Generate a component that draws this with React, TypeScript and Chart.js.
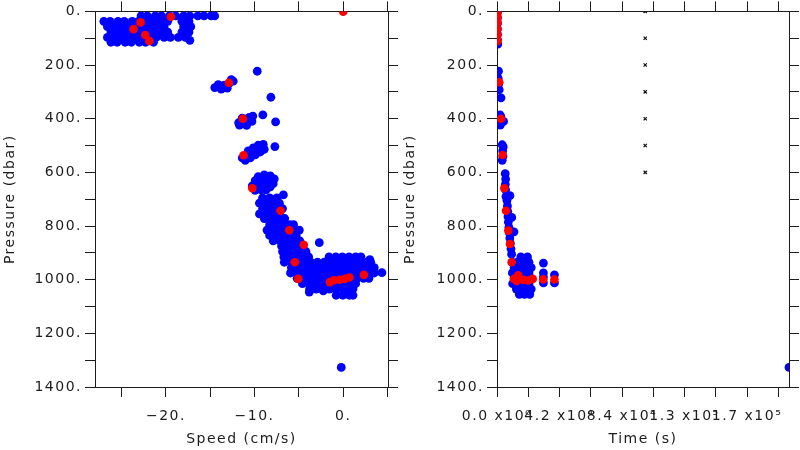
import { useEffect, useRef } from 'react';
import { Chart, registerables } from 'chart.js';

Chart.register(...registerables);

const FONT_FAMILY = '"DejaVu Sans", "Liberation Sans", sans-serif';
const INK = '#1c1c1c';
const BLUE = '#0000ff';
const RED = '#ff0000';

// ---------- axes ----------
const pressureTicks = [0, 100, 200, 300, 400, 500, 600, 700, 800, 900, 1000, 1100, 1200, 1300, 1400];
const pressureTickLabels = ['0.', '', '200.', '', '400.', '', '600.', '', '800.', '', '1000.', '', '1200.', '', '1400.'];
const speedRange = [-28, 5.05];
const speedTicks = [-25, -20, -15, -10, -5, 0, 5];
const speedTickLabels = ['', '\u221220.', '', '\u221210.', '', '0.', ''];
const timeRange = [0, 196200];
const timeTicks = [0, 21000, 42000, 63000, 84000, 105000, 126000, 147000, 168000, 189000];
const timeTickLabels = ['0.0 x10\u2070', '', '4.2 x10\u2074', '', '8.4 x10\u2074', '', '1.3 x10\u2075', '', '1.7 x10\u2075', ''];

// ---------- left panel: speed (cm/s) vs pressure (dbar) ----------
// rows: [pressure, speeds...]
const speedBlueSurfaceRows: [number, number[]][] = [
  [17, [-22.8, -22.1, -21.2, -20.5, -19.6, -18.9, -18.0, -17.3, -16.4, -15.7, -14.9, -14.5]],
  [37, [-27.0, -26.3, -25.4, -24.7, -23.8, -23.1, -22.2, -21.5, -20.6, -19.8, -18.2, -17.4]],
  [57, [-26.6, -25.8, -25.1, -24.2, -23.5, -22.6, -21.9, -21.0, -20.2, -18.0, -17.2]],
  [77, [-26.2, -25.5, -24.6, -23.9, -23.0, -22.3, -21.4, -20.7, -19.8, -18.2, -17.4]],
  [97, [-26.6, -25.9, -25.0, -24.3, -23.4, -22.7, -21.8, -21.1, -20.2, -19.5, -18.6, -17.8]],
  [108, [-17.3]],
  [115, [-26.2, -25.5, -24.6, -23.9, -23.0, -22.3, -21.4]],
];

const speedBlueMid: number[][] = [
  [-14.49, 284], [-13.99, 280], [-13.42, 275], [-12.86, 267], [-12.41, 260], [-13.76, 290],
  [-13.08, 286], [-14.1, 273], [-12.63, 254],
  [-9.7, 223], [-8.16, 320], [-9.07, 386], [-7.63, 412], [-7.71, 504],
  [-11.8, 415], [-11.0, 418], [-10.3, 410], [-11.4, 398], [-10.6, 395], [-10.2, 390],
  [-11.7, 424], [-10.9, 425], [-11.1, 402],
  [-11.39, 546], [-10.83, 537], [-10.26, 527], [-9.7, 516], [-9.14, 505], [-11.05, 555],
  [-10.49, 546], [-9.93, 535], [-9.36, 524], [-8.91, 514], [-10.72, 520], [-10.15, 509],
  [-9.59, 499], [-9.02, 496],
  [-9.59, 616], [-8.91, 609], [-8.23, 613], [-7.78, 624], [-9.93, 631], [-9.25, 631],
  [-8.57, 631], [-7.9, 642], [-10.26, 650], [-9.59, 650], [-8.91, 650], [-8.23, 654],
  [-9.93, 667], [-9.25, 665], [-8.69, 665],
];

const speedBlueDeepRows: [number, number[]][] = [
  [684, [-6.75]],
  [695, [-9.1, -8.3, -7.5]],
  [715, [-9.45, -8.7, -7.95, -7.2]],
  [735, [-9.1, -8.35, -7.6, -6.85]],
  [755, [-9.45, -8.7, -7.95, -7.2]],
  [772, [-8.9, -8.1, -7.3, -6.6]],
  [795, [-8.3, -7.55, -6.8, -6.05, -5.6]],
  [815, [-8.6, -7.85, -7.1, -6.35, -5.6, -4.95]],
  [835, [-8.3, -7.55, -6.8, -6.05, -5.3]],
  [855, [-7.9, -7.15, -6.4, -5.65, -4.9]],
  [862, [-2.7]],
  [875, [-6.95, -6.2, -5.45, -4.7]],
  [895, [-6.85, -6.1, -5.35, -4.6, -4.2]],
  [915, [-6.7, -5.95, -5.2, -4.45, -3.9, -1.6, -0.85, -0.1, 0.65, 1.4, 2.0]],
  [925, [3.0]],
  [935, [-6.65, -5.9, -5.15, -4.4, -3.65, -2.9, -2.15, -1.4, -0.65, 0.1, 0.85, 1.6, 2.35, 3.1]],
  [955, [-5.85, -5.1, -4.35, -3.6, -2.85, -2.1, -1.35, -0.6, 0.15, 0.9, 1.65, 2.4, 3.15, 3.5]],
  [974, [4.36]],
  [975, [-5.95, -5.2, -4.45, -3.7, -2.95, -2.2, -1.45, -0.7, 0.05, 0.8, 1.55, 2.3, 3.05, 3.5]],
  [995, [-5.2, -4.45, -3.7, -2.95, -2.2, -1.45, -0.7, 0.05, 0.8, 1.55, 2.3, 2.9]],
  [1015, [-4.6, -3.85, -3.1, -2.35, -1.6, -0.85, -0.1, 0.65, 1.4]],
  [1035, [-3.8, -3.05, -2.3, -1.55, -0.8, -0.05, 0.7, 1.1]],
  [1042, [-2.25]],
  [1046, [-3.83]],
  [1058, [-0.8, -0.05, 0.7, 1.1]],
  [1327, [-0.22]],
];

const speedRed: number[][] = [
  [-23.65, 66], [-22.86, 41], [-22.33, 88], [-21.88, 110], [-19.44, 20], [0, 1],
  [-12.9, 266], [-11.32, 400], [-11.24, 536], [-10.26, 659], [-7.07, 743],
  [-6.09, 816], [-4.45, 870], [-5.45, 935], [-5.07, 997],
  [-1.5, 1009], [-1.05, 1002], [-0.4, 1000], [0.2, 997], [0.7, 992], [2.33, 982],
];

// ---------- right panel: time (s) vs pressure (dbar) ----------
const timeBlue: number[][] = [
  [300, 5], [300, 25], [300, 45], [300, 65], [300, 85], [300, 105], [500, 122],
  [1000, 223], [800, 250], [1200, 270], [900, 288], [1500, 292], [2700, 322],
  [2000, 386], [2600, 392], [2000, 415], [3000, 412], [2200, 424], [4400, 410],
  [3500, 497], [4200, 505], [3800, 520], [4000, 540], [3500, 555],
  [5500, 605], [5800, 625], [5600, 645], [5800, 665], [6000, 690], [8700, 687],
  [6700, 705], [7000, 725], [7200, 745], [7400, 765], [9900, 768], [7600, 785],
  [8000, 805], [8300, 825], [11400, 822], [8600, 845], [9000, 865], [9400, 885], [9800, 905],
  [16000, 915], [20500, 915],
  [10200, 935], [13500, 935], [17500, 935], [21500, 935],
  [11500, 955], [15500, 955], [19500, 955], [23000, 955],
  [10300, 975], [13500, 975], [17500, 975], [21500, 975],
  [11500, 995], [15500, 995], [19500, 995], [23000, 995],
  [10500, 1015], [13500, 1015], [17500, 1015], [21500, 1015],
  [13000, 1035], [16500, 1035], [20000, 1035], [23000, 1035],
  [15000, 1055], [18500, 1055], [22000, 1055],
  [31200, 938], [31200, 975], [31200, 990], [31200, 1012], [38600, 982], [38600, 1012],
  [196200, 1327],
];

const timeRed: number[][] = [
  [400, 2], [400, 20], [400, 41], [400, 66], [400, 88], [400, 110],
  [1500, 264], [2700, 400], [3800, 535], [4900, 659], [6050, 743], [7600, 817],
  [8700, 867], [9850, 935], [11400, 997], [14300, 984], [13200, 1005], [17700, 1000],
  [21000, 1003], [24000, 997], [31100, 999], [38600, 999],
];

const timeMarks: number[][] = [
  [99600, 0], [99600, 100], [99600, 200], [99600, 300], [99600, 400], [99600, 500], [99600, 600],
];

// ---------- helpers ----------
const rowsToPoints = (rows: [number, number[]][]) =>
  rows.flatMap(([p, xs]) => xs.map((x) => ({ x, y: p })));
const pairsToPoints = (pairs: number[][]) => pairs.map(([x, y]) => ({ x, y }));

const letterSpacingPlugin = {
  id: 'letterSpacing',
  beforeDraw(chart: any) {
    chart.ctx.letterSpacing = '1.5px';
  },
};

function buildScales(
  xRange: number[],
  xTicks: number[],
  xLabels: string[],
  xTitle: string,
  leftWidth: number,
  rightWidth: number,
) {
  const font = { family: FONT_FAMILY, size: 14 };
  const fixTicks = (vals: number[]) => (scale: any) => {
    scale.ticks = vals.map((value) => ({ value }));
  };
  const grid = { drawOnChartArea: false, drawTicks: true, tickLength: 10, color: INK, lineWidth: 1 };
  const border = { display: true, color: INK, width: 1 };
  const xCommon = { type: 'linear', min: xRange[0], max: xRange[1], afterBuildTicks: fixTicks(xTicks), grid, border };
  const yCommon = { type: 'linear', min: 0, max: 1400, reverse: true, afterBuildTicks: fixTicks(pressureTicks), grid, border };
  return {
    x: {
      ...xCommon,
      position: 'bottom',
      afterFit: (s: any) => { s.height = 63; },
      ticks: {
        autoSkip: false, maxRotation: 0, minRotation: 0, padding: 11, color: INK, font,
        callback: (_v: any, i: number) => xLabels[i] ?? '',
      },
      title: { display: true, text: xTitle, color: INK, font, padding: { top: 0, bottom: 2 } },
    },
    xTop: {
      ...xCommon,
      position: 'top',
      afterFit: (s: any) => { s.height = 10; },
      ticks: { display: false },
    },
    y: {
      ...yCommon,
      position: 'left',
      afterFit: (s: any) => { s.width = leftWidth; },
      ticks: {
        autoSkip: false, padding: 3, color: INK, font,
        callback: (_v: any, i: number) => pressureTickLabels[i] ?? '',
      },
      title: { display: true, text: 'Pressure (dbar)', color: INK, font, padding: { top: 2, bottom: 0 } },
    },
    yRight: {
      ...yCommon,
      position: 'right',
      afterFit: (s: any) => { s.width = rightWidth; },
      ticks: { display: false },
    },
  };
}

function dotSet(data: any[], color: string, radius: number, order: number) {
  return {
    data,
    order,
    clip: 0,
    pointRadius: radius,
    pointHoverRadius: radius,
    pointBackgroundColor: color,
    pointBorderColor: color,
    pointBorderWidth: 0,
    showLine: false,
  };
}

function buildConfig(datasets: any[], scales: any): any {
  return {
    type: 'scatter',
    data: { datasets },
    options: {
      responsive: false,
      animation: false,
      events: [],
      layout: { padding: 0 },
      plugins: { legend: { display: false }, tooltip: { enabled: false } },
      scales,
    },
    plugins: [letterSpacingPlugin],
  };
}

export default function App() {
  const leftRef = useRef<HTMLCanvasElement>(null);
  const rightRef = useRef<HTMLCanvasElement>(null);

  useEffect(() => {
    const leftBlue = [
      ...rowsToPoints(speedBlueSurfaceRows),
      ...pairsToPoints(speedBlueMid),
      ...rowsToPoints(speedBlueDeepRows),
    ];
    const left = new Chart(
      leftRef.current as HTMLCanvasElement,
      buildConfig(
        [
          dotSet(pairsToPoints(speedRed), RED, 4.3, 0),
          dotSet(leftBlue, BLUE, 4.4, 1),
        ],
        buildScales(speedRange, speedTicks, speedTickLabels, 'Speed (cm/s)', 95, 12),
      ),
    );
    const right = new Chart(
      rightRef.current as HTMLCanvasElement,
      buildConfig(
        [
          {
            data: pairsToPoints(timeMarks),
            order: 0,
            clip: 0,
            pointStyle: 'crossRot',
            pointRadius: 2.3,
            pointHoverRadius: 2.3,
            pointBorderColor: '#111',
            pointBackgroundColor: '#111',
            pointBorderWidth: 1.2,
            showLine: false,
          },
          dotSet(pairsToPoints(timeRed), RED, 4.3, 1),
          dotSet(pairsToPoints(timeBlue), BLUE, 4.4, 2),
        ],
        buildScales(timeRange, timeTicks, timeTickLabels, 'Time (s)', 97, 11),
      ),
    );
    return () => {
      left.destroy();
      right.destroy();
    };
  }, []);

  return (
    <div style={{ position: 'absolute', left: 0, top: 0, width: 800, height: 450, background: '#ffffff' }}>
      <canvas
        ref={leftRef}
        width={400}
        height={450}
        style={{ position: 'absolute', left: 0, top: 0, width: 400, height: 450 }}
      />
      <canvas
        ref={rightRef}
        width={400}
        height={450}
        style={{ position: 'absolute', left: 400, top: 0, width: 400, height: 450 }}
      />
    </div>
  );
}
